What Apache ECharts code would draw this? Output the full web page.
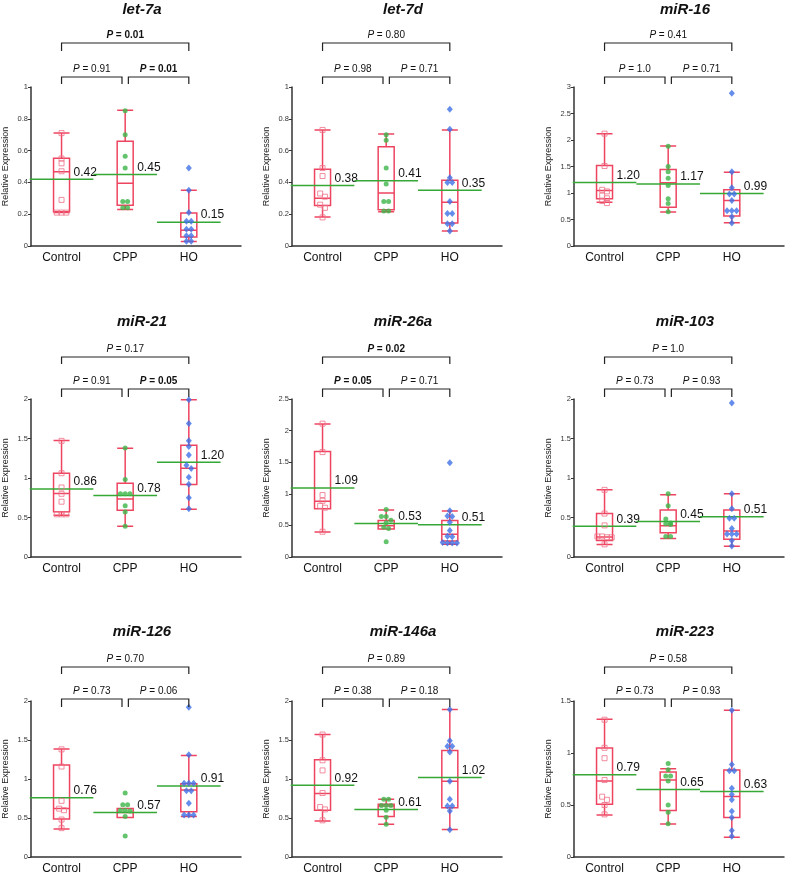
<!DOCTYPE html>
<html>
<head>
<meta charset="utf-8">
<script src="https://cdn.jsdelivr.net/npm/echarts@6/dist/echarts.min.js"></script>
<style>
html, body { margin: 0; padding: 0; background: #fff; }
#chart { width: 785px; height: 875px; }
</style>
</head>
<body>
<div id="chart"></div>
<script>
const panelNames = ["let-7a", "let-7d", "miR-16", "miR-21", "miR-26a", "miR-103", "miR-126", "miR-146a", "miR-223"];
const groups = ["Control", "CPP", "HO"];
const yMax = [1, 1, 3, 2, 2.5, 2, 2, 2, 1.5];
const yStep = [0.2, 0.2, 0.5, 0.5, 0.5, 0.5, 0.5, 0.5, 0.5];

// [min, Q1, median, Q3, max] for Control, CPP, HO
const boxStats = [
  [[0.21, 0.215, 0.467, 0.552, 0.71], [0.229, 0.257, 0.394, 0.659, 0.853], [0.029, 0.057, 0.099, 0.208, 0.35]],
  [[0.182, 0.254, 0.30, 0.482, 0.729], [0.216, 0.228, 0.334, 0.624, 0.704], [0.095, 0.144, 0.275, 0.414, 0.73]],
  [[0.826, 0.89, 1.049, 1.519, 2.117], [0.642, 0.731, 1.195, 1.443, 1.888], [0.439, 0.566, 0.858, 1.062, 1.392]],
  [[0.53, 0.572, 0.805, 1.059, 1.475], [0.39, 0.593, 0.733, 0.932, 1.377], [0.606, 0.919, 1.123, 1.415, 1.99]],
  [[0.395, 0.763, 0.884, 1.668, 2.105], [0.442, 0.442, 0.495, 0.579, 0.742], [0.2, 0.253, 0.358, 0.579, 0.726]],
  [[0.158, 0.21, 0.253, 0.551, 0.851], [0.234, 0.308, 0.396, 0.594, 0.787], [0.136, 0.226, 0.328, 0.596, 0.80]],
  [[0.36, 0.487, 0.623, 1.178, 1.386], [0.508, 0.508, 0.572, 0.623, 0.623], [0.52, 0.58, 0.86, 0.94, 1.301]],
  [[0.46, 0.599, 0.815, 1.248, 1.57], [0.419, 0.52, 0.655, 0.677, 0.74], [0.351, 0.63, 0.972, 1.366, 1.89]],
  [[0.404, 0.508, 0.731, 1.049, 1.325], [0.318, 0.448, 0.74, 0.817, 0.848], [0.191, 0.381, 0.581, 0.836, 1.411]]
];

const controlPts = [
  [0.71, 0.55, 0.52, 0.47, 0.29, 0.21, 0.21, 0.21],
  [0.73, 0.49, 0.44, 0.33, 0.31, 0.26, 0.24, 0.18],
  [2.12, 1.51, 1.06, 1.03, 0.95, 0.90, 0.85, 0.81],
  [1.47, 1.06, 0.88, 0.80, 0.70, 0.54, 0.54, 0.54],
  [2.11, 1.66, 0.98, 0.89, 0.81, 0.78, 0.40],
  [0.85, 0.55, 0.40, 0.26, 0.26, 0.25, 0.25, 0.16],
  [1.38, 1.16, 0.72, 0.62, 0.60, 0.48, 0.37],
  [1.57, 1.24, 1.11, 0.82, 0.64, 0.61, 0.47],
  [1.32, 1.05, 0.95, 0.74, 0.58, 0.55, 0.50, 0.41]
];
const cppPts = [
  [0.85, 0.70, 0.565, 0.49, 0.28, 0.28, 0.24, 0.24],
  [0.70, 0.665, 0.49, 0.39, 0.28, 0.28, 0.22, 0.22],
  [1.88, 1.50, 1.40, 1.28, 1.14, 0.89, 0.80, 0.645],
  [1.38, 0.98, 0.80, 0.80, 0.80, 0.65, 0.57, 0.39],
  [0.75, 0.64, 0.64, 0.58, 0.54, 0.47, 0.45, 0.24],
  [0.80, 0.65, 0.48, 0.43, 0.42, 0.41, 0.26, 0.26],
  [0.82, 0.67, 0.67, 0.60, 0.60, 0.59, 0.52, 0.27],
  [0.74, 0.74, 0.66, 0.66, 0.66, 0.60, 0.51, 0.42],
  [0.90, 0.84, 0.78, 0.78, 0.73, 0.50, 0.43, 0.32]
];
const hoPts = [
  [0.49, 0.35, 0.21, 0.155, 0.155, 0.105, 0.105, 0.065, 0.065, 0.03, 0.03],
  [0.86, 0.735, 0.43, 0.40, 0.40, 0.28, 0.205, 0.205, 0.14, 0.14, 0.095],
  [2.88, 1.40, 1.10, 0.98, 0.98, 0.86, 0.665, 0.665, 0.665, 0.55, 0.435],
  [1.99, 1.69, 1.47, 1.40, 1.29, 1.16, 1.12, 1.01, 0.92, 0.75, 0.61],
  [1.49, 0.73, 0.65, 0.64, 0.55, 0.42, 0.33, 0.32, 0.23, 0.22, 0.22, 0.22],
  [1.95, 0.80, 0.61, 0.49, 0.49, 0.36, 0.29, 0.29, 0.29, 0.21, 0.14],
  [1.92, 1.31, 0.945, 0.945, 0.945, 0.85, 0.85, 0.69, 0.54, 0.54, 0.54],
  [1.89, 1.49, 1.42, 1.42, 1.345, 0.97, 0.74, 0.655, 0.655, 0.59, 0.35],
  [1.41, 0.89, 0.83, 0.83, 0.66, 0.60, 0.55, 0.44, 0.38, 0.255, 0.20]
];

const means = [
  [0.42, 0.45, 0.15], [0.38, 0.41, 0.35], [1.20, 1.17, 0.99],
  [0.86, 0.78, 1.20], [1.09, 0.53, 0.51], [0.39, 0.45, 0.51],
  [0.76, 0.57, 0.91], [0.92, 0.61, 1.02], [0.79, 0.65, 0.63]
];

// Control vs HO, Control vs CPP, CPP vs HO
const pValues = [
  ["0.01", "0.91", "0.01"], ["0.80", "0.98", "0.71"], ["0.41", "1.0", "0.71"],
  ["0.17", "0.91", "0.05"], ["0.02", "0.05", "0.71"], ["1.0", "0.73", "0.93"],
  ["0.70", "0.73", "0.06"], ["0.89", "0.38", "0.18"], ["0.58", "0.73", "0.93"]
];
const bracketSpans = [[1, 3], [1, 1.95], [2.05, 3]];

// layout
const colLeft = [31, 292, 574];
const plotW = 210;
const rowTop = [87, 399, 701];
const rowH = [159, 158, 157];
const titleTop = [2, 314, 624];
// [top line, top tick end, lower line, lower tick end] relative to grid top
const bracketOff = [[-44, -36, -10, -3], [-42, -35, -10, -2], [-34, -27, -2, 6]];

const FONT = "'Liberation Sans', Arial, Helvetica, sans-serif";
const BOX_RED = "#ee4460";
const GREEN_LINE = "#35a835";
const colors = { ctrl: "#ef7288", cpp: "#3db54a", ho: "#3f70e6" };

function dodge(vals, tol, dx) {
  const idx = vals.map((v, k) => k).sort((a, b) => vals[b] - vals[a]);
  const off = new Array(vals.length).fill(0);
  let s = 0;
  while (s < idx.length) {
    let e = s + 1;
    while (e < idx.length && vals[idx[s]] - vals[idx[e]] < tol) e++;
    const n = e - s;
    for (let k = 0; k < n; k++) off[idx[s + k]] = (k - (n - 1) / 2) * dx;
    s = e;
  }
  return off;
}

const grids = [], xAxes = [], yAxes = [], titles = [], series = [];

panelNames.forEach((name, i) => {
  const r = Math.floor(i / 3), c = i % 3;
  grids.push({ left: colLeft[c], top: rowTop[r], width: plotW, height: rowH[r] });
  titles.push({
    text: name, left: colLeft[c] + 111, top: titleTop[r], textAlign: "center", padding: 0,
    textStyle: { fontSize: 15, fontWeight: "bold", fontStyle: "italic", color: "#111", fontFamily: FONT }
  });
  xAxes.push({
    gridIndex: i, type: "value", min: 0.52, max: 3.82,
    axisLine: { show: true, lineStyle: { color: "#333", width: 1.5 } },
    axisTick: { show: false },
    splitLine: { show: false },
    axisLabel: {
      customValues: [1, 2, 3], margin: 6, fontSize: 12, color: "#111", fontFamily: FONT,
      formatter: v => groups[Math.round(v) - 1]
    }
  });
  yAxes.push({
    gridIndex: i, type: "value", min: 0, max: yMax[i], interval: yStep[i],
    name: "Relative Expression", nameLocation: "middle", nameGap: 21,
    nameTextStyle: { fontSize: 9, color: "#222", fontFamily: FONT },
    axisLine: { show: true, lineStyle: { color: "#333", width: 1.5 } },
    axisTick: { show: true, length: 3, lineStyle: { color: "#333" } },
    splitLine: { show: false },
    axisLabel: { fontSize: 7.5, color: "#333", margin: 3, fontFamily: FONT }
  });

  const tol = yMax[i] * 4 / rowH[r];
  const ptSets = [controlPts[i], cppPts[i], hoPts[i]];

  series.push({
    type: "boxplot", xAxisIndex: i, yAxisIndex: i, layout: "horizontal",
    boxWidth: [16, 16], z: 2,
    itemStyle: { color: "rgba(255,255,255,0)", borderColor: BOX_RED, borderWidth: 1.5 },
    emphasis: { disabled: true },
    data: boxStats[i].map((b, g) => [g + 1].concat(b))
  });

  series.push({
    type: "custom", xAxisIndex: i, yAxisIndex: i, clip: false, z: 3, silent: true,
    data: means[i].map((m, g) => [g + 1, m]),
    renderItem: (params, api) => {
      const g = api.value(0), m = api.value(1);
      const p1 = api.coord([g - 0.5, m]), p2 = api.coord([g + 0.5, m]);
      const bx = api.coord([g + 0.126, m])[0];
      return {
        type: "group", children: [
          { type: "line", shape: { x1: p1[0], y1: p1[1], x2: p2[0], y2: p2[1] },
            style: { stroke: GREEN_LINE, lineWidth: 1.5 } },
          { type: "text", style: { x: bx + 4, y: p1[1] - 1, text: m.toFixed(2), align: "left",
            verticalAlign: "bottom", fontSize: 12, fontFamily: FONT, fill: "#111" } }
        ]
      };
    }
  });

  const styles = [
    { symbol: "rect", symbolSize: 5, itemStyle: { color: "rgba(255,255,255,0)", borderColor: colors.ctrl, borderWidth: 1 } },
    { symbol: "circle", symbolSize: 5, itemStyle: { color: colors.cpp } },
    { symbol: "diamond", symbolSize: [6, 7], itemStyle: { color: colors.ho } }
  ];
  ptSets.forEach((vals, g) => {
    const off = dodge(vals, tol, 0.075);
    series.push(Object.assign({
      type: "scatter", xAxisIndex: i, yAxisIndex: i, z: 4, silent: true,
      data: vals.map((v, k) => [g + 1 + off[k], v])
    }, styles[g]));
  });

  series.push({
    type: "custom", xAxisIndex: i, yAxisIndex: i, clip: false, z: 5, silent: true,
    data: bracketSpans.map((s, k) => [s[0], 0, s[1], k]),
    renderItem: (params, api) => {
      const x1 = api.coord([api.value(0), 0])[0];
      const x2 = api.coord([api.value(2), 0])[0];
      const k = api.value(3);
      const top = params.coordSys.y;
      const off = bracketOff[r];
      const yl = top + (k === 0 ? off[0] : off[2]);
      const yb = top + (k === 0 ? off[1] : off[3]);
      const pv = pValues[i][k];
      const bold = parseFloat(pv) <= 0.05;
      return {
        type: "group", children: [
          { type: "polyline", shape: { points: [[x1, yb], [x1, yl], [x2, yl], [x2, yb]] },
            style: { stroke: "#222", lineWidth: 1.2, fill: null } },
          { type: "text", style: {
            x: (x1 + x2) / 2, y: yl - 3, text: "{i|P} = " + pv, align: "center", verticalAlign: "bottom",
            fontSize: 10, fontFamily: FONT, fill: "#111", fontWeight: bold ? "bold" : "normal",
            rich: { i: { fontStyle: "italic", fontSize: 10, fontFamily: FONT, fill: "#111", fontWeight: bold ? "bold" : "normal" } }
          } }
        ]
      };
    }
  });
});

const chart = echarts.init(document.getElementById("chart"));
chart.setOption({
  animation: false,
  backgroundColor: "#fff",
  title: titles,
  grid: grids,
  xAxis: xAxes,
  yAxis: yAxes,
  series: series
});
</script>
</body>
</html>
